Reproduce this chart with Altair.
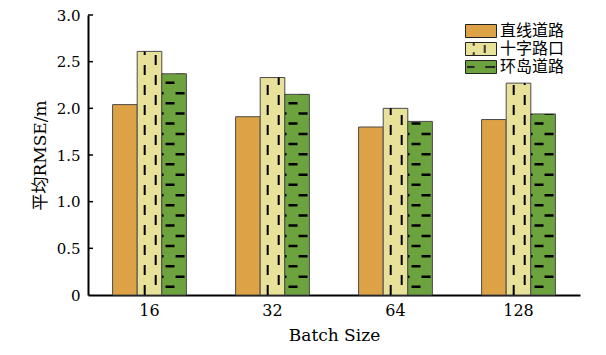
import altair as alt
import pandas as pd

# ---- data ----
groups = ["16", "32", "64", "128"]
series = ["直线道路", "十字路口", "环岛道路"]
straight = [2.04, 1.91, 1.80, 1.88]
cross = [2.61, 2.33, 2.00, 2.27]
roundabout = [2.37, 2.15, 1.86, 1.94]
y_tick_values = [0, 0.5, 1.0, 1.5, 2.0, 2.5, 3.0]

colors = ["#DDA246", "#E7E19A", "#6DA33F"]

rows = []
for s, vals in zip(series, [straight, cross, roundabout]):
    for g, v in zip(groups, vals):
        rows.append({"group": g, "series": s, "value": v})
df = pd.DataFrame(rows)
ticks_df = pd.DataFrame({"t": [v for v in y_tick_values if v > 0]})

FONT = "DejaVu Serif, Noto Sans CJK SC"
X_TITLE = "Batch Size"
Y_TITLE = "平均RMSE/m"

x_scale = alt.Scale(domain=groups, paddingInner=0.4, paddingOuter=0.2)
y_scale = alt.Scale(domain=[0, 3], nice=False)

x_axis = alt.Axis(labelAngle=0, ticks=False, domainColor="black", domainWidth=2,
                  labelPadding=7, titlePadding=9, labelFontSize=16, titleFontSize=17,
                  labelFont=FONT, titleFont=FONT, labelColor="black",
                  titleColor="black", titleFontWeight="normal", grid=False)
y_axis = alt.Axis(values=y_tick_values,
                  labelExpr="datum.value == 0 ? '0' : format(datum.value, '.1f')",
                  ticks=False, grid=False, domainColor="black", domainWidth=2,
                  labelPadding=8, titlePadding=7, labelFontSize=15, titleFontSize=17,
                  labelFont=FONT, titleFont=FONT, labelColor="black",
                  titleColor="black", titleFontWeight="normal")

# legend symbol shapes (unit = half of sqrt(symbolSize))
rect = "M-3.1,-1.3H3.1V1.3H-3.1Z"
paths = [
    rect,
    rect + "M-1.55,-1.3V-0.65M-1.36,-1.3V-0.65M-1.55,0.65V1.3M-1.36,0.65V1.3"
           "M0.65,-0.8V0.8M0.84,-0.8V0.8",
    rect + "M-2.79,-0.11H-1.3M-2.79,0.11H-1.3M0.84,-0.11H2.85M0.84,0.11H2.85",
]


def leg():
    return alt.Legend(title=None, orient="none", legendX=385, legendY=8, direction="vertical",
                      symbolSize=100, symbolOpacity=1, symbolStrokeWidth=1,
                      labelFont=FONT, labelFontSize=16, labelColor="black", labelOffset=11,
                      rowPadding=0, padding=0)


def X(**kw):
    return alt.X("group:N", sort=groups, scale=x_scale, title=X_TITLE, axis=x_axis, **kw)


def Y(field):
    return alt.Y(field, scale=y_scale, title=Y_TITLE, axis=y_axis)


def FILL():
    return alt.Fill("series:N", scale=alt.Scale(domain=series, range=colors), legend=leg())


base = alt.Chart(df)

bars = base.mark_bar(stroke="#4a4a4a", strokeWidth=1).encode(
    x=X(),
    xOffset=alt.XOffset("series:N", sort=series, scale=alt.Scale(domain=series)),
    y=Y("value:Q"),
    fill=FILL(),
)


def pattern(name, band_pos, width, dash, offset):
    return base.transform_filter(alt.datum.series == name).transform_calculate(
        zero="0"
    ).mark_rule(color="black", strokeWidth=width, strokeDash=dash,
                strokeDashOffset=offset, strokeCap="butt").encode(
        x=X(bandPosition=band_pos),
        y=Y("zero:Q"),
        y2="value:Q",
    )


cross_l = pattern(series[1], 0.435, 2, [10, 10], 0)
cross_r = pattern(series[1], 0.584, 2, [10, 10], 10)
green_l = pattern(series[2], 0.778, 9, [2.5, 17.9], 13.4)
green_r = pattern(series[2], 0.914, 9, [2.5, 17.9], 3.4)
green_s = pattern(series[2], 0.680, 1.5, [2.5, 17.9], 3.4)

ticks = alt.Chart(ticks_df).mark_rule(color="black", strokeWidth=1.5).encode(
    y=Y("t:Q"),
    x=alt.value(0),
    x2=alt.value(5),
)

legend_pts = base.mark_point(filled=True, opacity=0).encode(
    x=X(),
    y=Y("value:Q"),
    fill=FILL(),
    shape=alt.Shape("series:N", scale=alt.Scale(domain=series, range=paths), legend=leg()),
    stroke=alt.Stroke("series:N", scale=alt.Scale(domain=series, range=["#222222"] * 3),
                      legend=leg()),
)

chart = alt.layer(bars, cross_l, cross_r, green_l, green_r, green_s, ticks, legend_pts).properties(
    width=492, height=280,
    autosize=alt.AutoSizeParams(type="none"),
    padding={"left": 88, "top": 15, "right": 26, "bottom": 60},
    background="white",
).configure_view(stroke=None)

chart.save("out.html", embed_options={"renderer": "svg", "actions": False})
